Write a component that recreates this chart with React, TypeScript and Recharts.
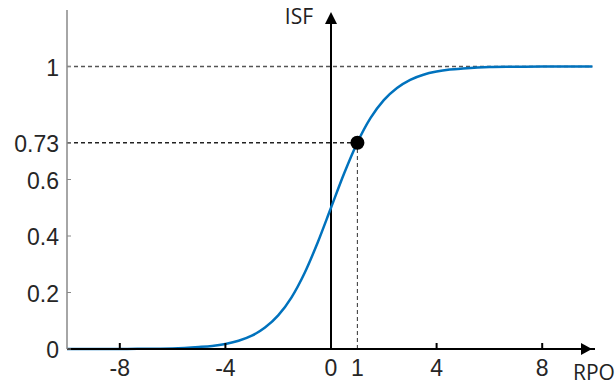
import { ComposedChart, Line, XAxis, YAxis, ReferenceLine, ReferenceDot } from 'recharts';

if (typeof document !== 'undefined') document.body.style.margin = '0';

// RPO values (x) and the ISF readings (y) taken from the curve
const rpo = [-10, -9, -8, -7, -6, -5, -4.5, -4, -3.5, -3, -2.5, -2, -1.5, -1, -0.5, 0, 0.5, 1, 1.5, 2, 2.5, 3, 3.5, 4, 4.5, 5, 6, 7, 8, 9, 9.9];
const isf = [0, 0, 0, 0.001, 0.002, 0.007, 0.011, 0.018, 0.029, 0.047, 0.076, 0.119, 0.182, 0.269, 0.378, 0.5, 0.622, 0.731, 0.818, 0.881, 0.924, 0.953, 0.971, 0.982, 0.989, 0.993, 0.998, 0.999, 1, 1, 1];

const xTicks = [-8, -4, 0, 1, 4, 8];
const yTicks = [0, 0.2, 0.4, 0.6, 0.73, 1];
const marked = { x: 1, y: 0.73 };

const data = rpo.map((x, i) => ({ x, isf: isf[i] }));

const tickFont = { fontFamily: 'Liberation Sans, Arial, sans-serif', fontSize: 23, fill: '#262626' };

function XTick({ x, y, payload }: any) {
  const v = payload.value;
  const showMark = v !== 0 && v !== 1;
  return (
    <g>
      {showMark && <line x1={x} x2={x} y1={y} y2={y - 6} stroke="#000" strokeWidth={2} />}
      <text x={x} y={y + 19} textAnchor="middle" dominantBaseline="central" {...tickFont}>
        {v}
      </text>
    </g>
  );
}

function YTick({ x, y, payload }: any) {
  return (
    <g>
      <line x1={x} x2={x + 4} y1={y} y2={y} stroke="#888" strokeWidth={1} />
      <text x={x - 8} y={y + 1} textAnchor="end" dominantBaseline="central" {...tickFont}>
        {payload.value}
      </text>
    </g>
  );
}

function UpArrow({ cx, cy }: any) {
  return (
    <g>
      <polygon points={`${cx},${cy + 2} ${cx - 6},${cy + 14} ${cx + 6},${cy + 14}`} fill="#000" />
      <text x={cx - 18} y={cy + 14} textAnchor="end" fontFamily="Open Sans, sans-serif" fontSize={21} fill="#222">
        ISF
      </text>
    </g>
  );
}

function RightArrow({ cx, cy }: any) {
  return (
    <g>
      <polygon points={`${cx - 3},${cy} ${cx - 14},${cy - 6} ${cx - 14},${cy + 6}`} fill="#000" />
      <text x={cx - 22} y={cy + 31} fontFamily="Open Sans, sans-serif" fontSize={21} fill="#222">
        RPO
      </text>
    </g>
  );
}

export default function App() {
  return (
    <ComposedChart width={615} height={385} data={data} margin={{ top: 10, right: 20, bottom: 0, left: 0 }}>
      <XAxis
        dataKey="x"
        type="number"
        domain={[-10, 10]}
        ticks={xTicks}
        height={36}
        axisLine={{ stroke: '#000', strokeWidth: 2 }}
        tickLine={false}
        tickSize={0}
        tickMargin={0}
        tick={<XTick />}
        interval={0}
      />
      <YAxis
        type="number"
        domain={[0, 1.2]}
        ticks={yTicks}
        width={67}
        axisLine={{ stroke: '#888', strokeWidth: 1.5 }}
        tickLine={false}
        tickSize={0}
        tickMargin={0}
        tick={<YTick />}
        interval={0}
      />
      <ReferenceLine
        segment={[{ x: -10, y: 1 }, { x: 9.9, y: 1 }]}
        stroke="#555"
        strokeWidth={1.4}
        strokeDasharray="4 3"
      />
      <ReferenceLine
        segment={[{ x: -10, y: marked.y }, { x: marked.x, y: marked.y }]}
        stroke="#222"
        strokeWidth={1.4}
        strokeDasharray="4 3"
      />
      <ReferenceLine
        segment={[{ x: marked.x, y: 0 }, { x: marked.x, y: marked.y }]}
        stroke="#444"
        strokeWidth={1.1}
        strokeDasharray="4 3"
      />
      <ReferenceLine
        segment={[{ x: 0, y: 0 }, { x: 0, y: 1.17 }]}
        stroke="#000"
        strokeWidth={2}
      />
      <ReferenceDot x={0} y={1.2} r={1} shape={<UpArrow />} />
      <ReferenceDot x={10} y={0} r={1} shape={<RightArrow />} />
      <Line
        dataKey="isf"
        type="monotone"
        stroke="#0072BD"
        strokeWidth={2.5}
        dot={false}
        isAnimationActive={false}
      />
      <ReferenceDot x={marked.x} y={marked.y} r={7} fill="#000" stroke="none" />
    </ComposedChart>
  );
}
